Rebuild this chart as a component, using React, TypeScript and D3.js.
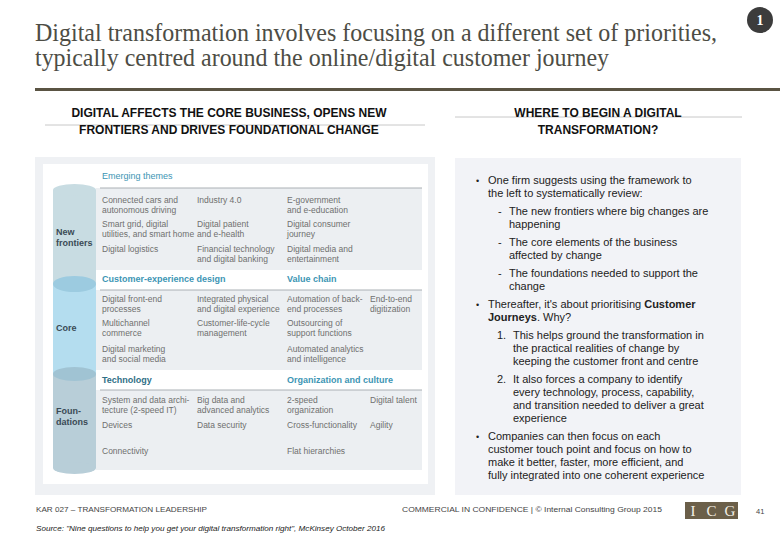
import React from "react";
import * as d3 from "d3";

const titleLines = [
  "Digital transformation involves focusing on a different set of priorities,",
  "typically centred around the online/digital customer journey",
];
const leftHeading = ["DIGITAL AFFECTS THE CORE BUSINESS, OPENS NEW", "FRONTIERS AND DRIVES FOUNDATIONAL CHANGE"];
const rightHeading = ["WHERE TO BEGIN A DIGITAL", "TRANSFORMATION?"];

const sectionLabels = [["New", "frontiers"], ["Core"], ["Foun-", "dations"]];
const sectionHeaders = [
  [{ text: "Emerging themes", col: 0, bold: false }],
  [
    { text: "Customer-experience design", col: 0, bold: true },
    { text: "Value chain", col: 2, bold: true },
  ],
  [
    { text: "Technology", col: 0, bold: true },
    { text: "Organization and culture", col: 2, bold: true },
  ],
];
const newFrontierRows = [
  [["Connected cars and", "autonomous driving"], ["Industry 4.0"], ["E-government", "and e-education"]],
  [["Smart grid, digital", "utilities, and smart home"], ["Digital patient", "and e-health"], ["Digital consumer", "journey"]],
  [["Digital logistics"], ["Financial technology", "and digital banking"], ["Digital media and", "entertainment"]],
];
const coreRows = [
  [["Digital front-end", "processes"], ["Integrated physical", "and digital experience"], ["Automation of back-", "end processes"], ["End-to-end", "digitization"]],
  [["Multichannel", "commerce"], ["Customer-life-cycle", "management"], ["Outsourcing of", "support functions"], []],
  [["Digital marketing", "and social media"], [], ["Automated analytics", "and intelligence"], []],
];
const foundationRows = [
  [["System and data archi-", "tecture (2-speed IT)"], ["Big data and", "advanced analytics"], ["2-speed", "organization"], ["Digital talent"]],
  [["Devices"], ["Data security"], ["Cross-functionality"], ["Agility"]],
  [["Connectivity"], [], ["Flat hierarchies"], []],
];
const sectionRows = [newFrontierRows, coreRows, foundationRows];

type Seg = { t: string; b?: boolean };
const bulletLines: { kind: string; marker: string; segs: Seg[] }[] = [
  { kind: "b", marker: "•", segs: [{ t: "One firm suggests using the framework to" }] },
  { kind: "bc", marker: "", segs: [{ t: "the left to systematically review:" }] },
  { kind: "d", marker: "-", segs: [{ t: "The new frontiers where big changes are" }] },
  { kind: "dc", marker: "", segs: [{ t: "happening" }] },
  { kind: "d", marker: "-", segs: [{ t: "The core elements of the business" }] },
  { kind: "dc", marker: "", segs: [{ t: "affected by change" }] },
  { kind: "d", marker: "-", segs: [{ t: "The foundations needed to support the" }] },
  { kind: "dc", marker: "", segs: [{ t: "change" }] },
  { kind: "b", marker: "•", segs: [{ t: "Thereafter, it's about prioritising " }, { t: "Customer", b: true }] },
  { kind: "bc", marker: "", segs: [{ t: "Journeys", b: true }, { t: ".  Why?" }] },
  { kind: "n", marker: "1.", segs: [{ t: "This helps ground the transformation in" }] },
  { kind: "nc", marker: "", segs: [{ t: "the practical realities of change by" }] },
  { kind: "nc", marker: "", segs: [{ t: "keeping the customer front and centre" }] },
  { kind: "n", marker: "2.", segs: [{ t: "It also forces a company to identify" }] },
  { kind: "nc", marker: "", segs: [{ t: "every technology, process, capability," }] },
  { kind: "nc", marker: "", segs: [{ t: "and transition needed to deliver a great" }] },
  { kind: "nc", marker: "", segs: [{ t: "experience" }] },
  { kind: "b", marker: "•", segs: [{ t: "Companies can then focus on each" }] },
  { kind: "bc", marker: "", segs: [{ t: "customer touch point and focus on how to" }] },
  { kind: "bc", marker: "", segs: [{ t: "make it better, faster, more efficient, and" }] },
  { kind: "bc", marker: "", segs: [{ t: "fully integrated into one coherent experience" }] },
];
const bulletBaselines = [184, 197, 215, 228, 246, 259, 277, 290, 308, 321, 339, 352, 365, 383, 396, 409, 422, 440, 453, 466, 479];

const footerLeft = "KAR 027 – TRANSFORMATION LEADERSHIP";
const footerMid = "COMMERCIAL IN CONFIDENCE  |  © Internal Consulting Group 2015";
const footerSource = "Source: \"Nine questions to help you get your digital transformation right\", McKinsey October 2016";
const pageNumber = "41";
const logoLetters = ["I", "C", "G"];

export default function App() {
  const colX = d3.scaleOrdinal<number, number>().domain([0, 1, 2, 3]).range([102, 197, 287, 370]);
  const logoX = d3.scalePoint<string>().domain(logoLetters).range([693, 730]);
  const headerY = [179, 282, 383];
  const rowY = [
    [203, 227, 252],
    [302, 326, 352],
    [403, 428, 454],
  ];
  const greyBands = [
    [188, 270],
    [290, 370],
    [390, 470],
  ];
  const labelY = [[235, 246], [331], [414, 425]];
  const cylX = 53, cylW = 43;
  const cx = cylX + cylW / 2;
  const sans = "'Liberation Sans', Arial, sans-serif";
  const serif = "'Liberation Serif', 'Times New Roman', serif";

  const markerX: Record<string, number> = { b: 476, d: 498, n: 497 };
  const textX: Record<string, number> = { b: 488, bc: 488, d: 509, dc: 509, n: 513, nc: 513 };

  return (
    <svg width={780} height={540} style={{ position: "absolute", left: 0, top: 0, background: "#fff" }}>
      {/* Title */}
      <text x={35} y={41} fontFamily={serif} fontSize={25} fill="#4d4d45" textLength={682} lengthAdjust="spacingAndGlyphs">
        {titleLines[0]}
      </text>
      <text x={35} y={66} fontFamily={serif} fontSize={25} fill="#4d4d45" textLength={574} lengthAdjust="spacingAndGlyphs">
        {titleLines[1]}
      </text>
      <circle cx={760} cy={20} r={13} fill="#3c3c3c" />
      <text x={760} y={25} textAnchor="middle" fontFamily={serif} fontSize={14} fontWeight="bold" fill="#fff">1</text>
      <rect x={35} y={88} width={745} height={3} fill="#5a5443" />

      {/* Headings */}
      <line x1={45} x2={425} y1={125} y2={125} stroke="#c8c8c8" strokeWidth={1} />
      {leftHeading.map((t, i) => (
        <text key={t} x={229} y={117 + i * 17} textAnchor="middle" fontFamily={sans} fontSize={12} fontWeight="bold" fill="#111">{t}</text>
      ))}
      <line x1={455} x2={742} y1={117} y2={117} stroke="#c8c8c8" strokeWidth={1} />
      {rightHeading.map((t, i) => (
        <text key={t} x={598} y={117 + i * 17} textAnchor="middle" fontFamily={sans} fontSize={12} fontWeight="bold" fill="#111">{t}</text>
      ))}

      {/* Left panel */}
      <rect x={35} y={157} width={400} height={338} fill="#eff1f4" />
      <rect x={43} y={164} width={385} height={320} fill="#ffffff" />
      {greyBands.map(([a, b], i) => (
        <rect key={i} x={96} y={a} width={326} height={b - a} fill="#eceff2" />
      ))}
      {greyBands.map(([a], i) => (
        <line key={i} x1={100} x2={422} y1={a} y2={a} stroke="#aab0b4" strokeWidth={1} />
      ))}

      {/* cylinder */}
      <rect x={cylX} y={190} width={cylW} height={94} fill="#c8dce2" />
      <ellipse cx={cx} cy={190} rx={cylW / 2} ry={6} fill="#c8dce2" />
      <rect x={cylX} y={284} width={cylW} height={90} fill="#b4ddef" />
      <ellipse cx={cx} cy={284} rx={cylW / 2} ry={8} fill="#9ccbe0" />
      <rect x={cylX} y={374} width={cylW} height={94} fill="#b8ced8" />
      <ellipse cx={cx} cy={374} rx={cylW / 2} ry={7} fill="#a0c3d3" />
      <ellipse cx={cx} cy={468} rx={cylW / 2} ry={6} fill="#b8ced8" />

      {sectionLabels.map((lines, s) =>
        lines.map((l, j) => (
          <text key={s + "-" + j} x={56} y={labelY[s][j]} fontFamily={sans} fontSize={9} fontWeight="bold" fill="#3a4a55">{l}</text>
        ))
      )}
      {sectionHeaders.map((hs, s) =>
        hs.map((h) => (
          <text key={h.text} x={colX(h.col)} y={headerY[s]} fontFamily={sans} fontSize={9} fontWeight={h.bold ? "bold" : "normal"}
            fill={s === 2 && h.col === 0 ? "#2f6f86" : "#3d95b4"}>{h.text}</text>
        ))
      )}
      {sectionRows.map((rows, s) =>
        rows.map((row, r) =>
          row.map((cell, c) =>
            cell.map((line, k) => (
              <text key={`${s}-${r}-${c}-${k}`} x={colX(c)} y={rowY[s][r] + k * 10} fontFamily={sans} fontSize={8.5} fill="#6f6f6f">{line}</text>
            ))
          )
        )
      )}

      {/* Right panel */}
      <rect x={455} y={158} width={286} height={337} fill="#f2f3f7" />
      {bulletLines.map((bl, i) => (
        <g key={i}>
          {bl.marker && (
            <text x={markerX[bl.kind]} y={bulletBaselines[i]} fontFamily={sans} fontSize={bl.kind === "b" ? 9 : 11} fill="#222">{bl.marker}</text>
          )}
          <text x={textX[bl.kind]} y={bulletBaselines[i]} fontFamily={sans} fontSize={11} fill="#222">
            {bl.segs.map((s, j) => (
              <tspan key={j} fontWeight={s.b ? "bold" : "normal"}>{s.t}</tspan>
            ))}
          </text>
        </g>
      ))}

      {/* Footer */}
      <text x={36} y={512} fontFamily={sans} fontSize={7.5} fill="#444" textLength={171} lengthAdjust="spacingAndGlyphs">{footerLeft}</text>
      <text x={402} y={512} fontFamily={sans} fontSize={7.5} fill="#444" textLength={260} lengthAdjust="spacingAndGlyphs">{footerMid}</text>
      <rect x={685} y={502} width={53} height={17} fill="#6b5f49" />
      {logoLetters.map((l) => (
        <text key={l} x={logoX(l)} y={516} textAnchor="middle" fontFamily={serif} fontSize={15} fill="#f4f0e6">{l}</text>
      ))}
      <text x={756} y={514} fontFamily={sans} fontSize={7.5} fill="#444">{pageNumber}</text>
      <text x={36} y={531} fontFamily={sans} fontSize={7} fontStyle="italic" fill="#222" textLength={349} lengthAdjust="spacingAndGlyphs">{footerSource}</text>
    </svg>
  );
}
